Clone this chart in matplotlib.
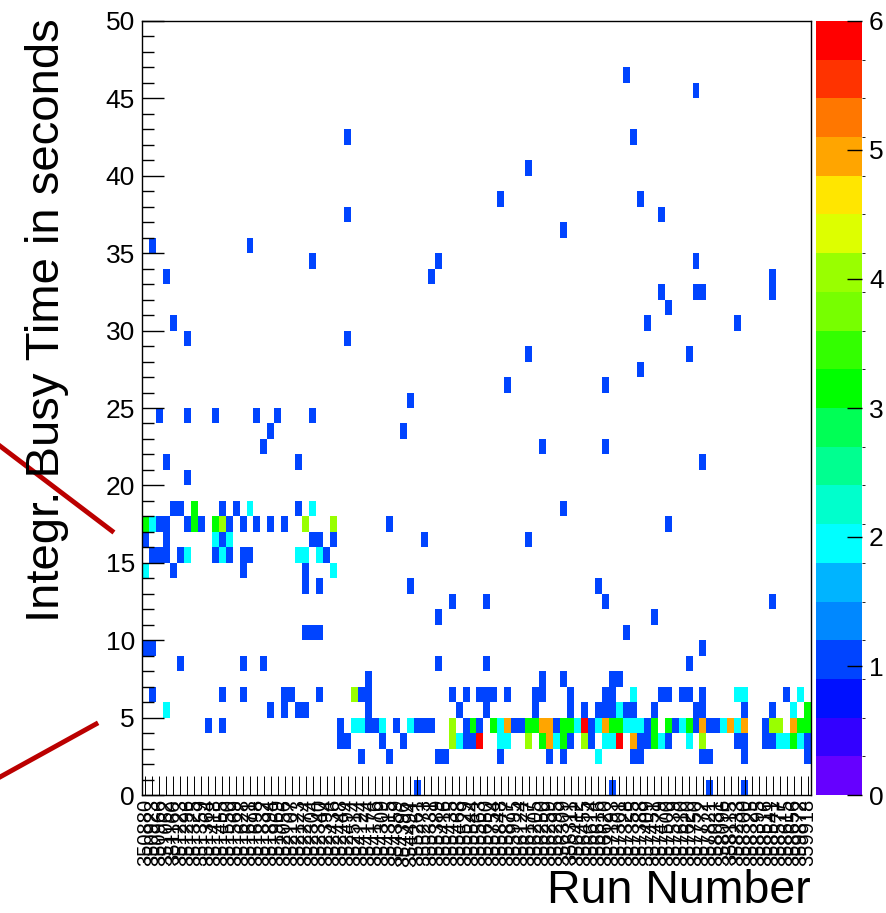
import numpy as np
import matplotlib
matplotlib.use("Agg")
import matplotlib.pyplot as plt
from matplotlib.colors import ListedColormap, BoundaryNorm
from matplotlib.lines import Line2D
from matplotlib.ticker import MultipleLocator

plt.rcParams['font.family'] = ['Liberation Sans', 'DejaVu Sans']

# ---------------- data ----------------
run_numbers = [
    "350880", "350923", "350966", "351062", "351160", "351223", "351296", "351325",
    "351359", "351364", "351418", "351455", "351550", "351569", "351628", "351671",
    "351698", "351832", "351894", "351969", "352056", "352107", "352123", "352274",
    "352304", "352340", "352394", "352436", "352448", "352494", "352514", "354124",
    "354174", "354176", "354309", "354315", "354359", "354396", "354494", "355261",
    "355273", "355331", "355389", "355416", "355435", "355468", "355529", "355544",
    "355563", "355650", "355754", "355848", "355877", "355995", "356124", "356177",
    "356205", "356250", "356259", "356295", "356309", "356311", "356412", "356455",
    "356614", "356616", "356620", "357193", "357301", "357328", "357355", "357388",
    "357409", "357451", "357479", "357500", "357539", "357610", "357620", "357750",
    "357772", "357821", "358031", "358096", "358115", "358233", "358300", "358325",
    "358395", "358516", "358541", "358577", "358615", "358656", "359872", "359918",
]
n_time_bins = 50  # 1-second bins from 0 to 50 s

# (time bin, [run indices]) for each entry count
cells_count_1 = [
    (46, [69]), (45, [79]), (42, [29, 70]), (40, [55]), (38, [51, 71]),
    (37, [29, 74]), (36, [60]), (35, [1, 15]), (34, [24, 42, 79]),
    (33, [3, 41, 90]), (32, [74, 79, 80, 90]), (31, [75]), (30, [4, 72, 85]),
    (29, [6, 29]), (28, [55, 78]), (27, [71]), (26, [52, 66]), (25, [38]),
    (24, [2, 6, 10, 16, 19, 24]), (23, [18, 37]), (22, [17, 57, 66]),
    (21, [3, 22, 80]), (20, [6]),
    (18, [4, 5, 11, 13, 22, 60]),
    (17, [2, 3, 6, 8, 12, 14, 16, 18, 20, 35, 75]),
    (16, [0, 3, 11, 24, 25, 27, 40, 55]),
    (15, [1, 2, 3, 5, 10, 12, 14, 15, 26]),
    (14, [4, 14, 23]), (13, [23, 25, 38, 65]), (12, [44, 49, 66, 90]),
    (11, [42, 73]), (10, [23, 24, 25, 69]), (9, [0, 1, 80]),
    (8, [5, 14, 17, 42, 49, 78]), (7, [32, 57, 60, 67, 68]),
    (6, [1, 11, 14, 20, 21, 25, 31, 32, 44, 46, 48, 49, 50, 52, 56, 57, 61,
         66, 67, 74, 75, 77, 78, 80, 92]),
    (5, [18, 20, 22, 23, 32, 45, 49, 56, 61, 63, 65, 66, 67, 69, 70, 73, 79,
         80, 86, 90]),
    (4, [9, 11, 28, 32, 33, 36, 39, 40, 41, 46, 48, 53, 54, 59, 64, 72, 76,
         79, 81, 82, 89]),
    (3, [28, 29, 34, 37, 46, 47, 61, 64, 71, 72, 75, 85, 86, 89, 90, 95]),
    (2, [31, 35, 42, 43, 51, 58, 60, 70, 71, 80, 81, 86, 95]),
    (0, [39, 67, 81, 86]),
]
cells_count_2 = [
    (18, [15, 24]), (17, [1]), (16, [10, 12]), (15, [6, 11, 22, 23, 25]),
    (14, [0, 27]), (6, [70, 85, 86, 94]), (5, [3, 68, 93]),
    (4, [30, 31, 34, 38, 51, 62, 65, 69, 70, 71, 77, 83, 85]),
    (3, [45, 51, 52, 59, 66, 67, 74, 78, 91, 92, 94]), (2, [65]),
]
cells_count_3 = [
    (18, [7]), (17, [0, 7, 10]), (5, [95]),
    (4, [47, 50, 55, 56, 60, 61, 67, 68, 73, 75, 78, 94, 95]),
    (3, [57, 60, 73, 93]),
]
cells_count_4 = [
    (17, [11, 23, 27]), (6, [30]), (4, [44, 90, 91]), (3, [44, 55, 63, 80]),
]
cells_count_5 = [
    (4, [52, 57, 58, 66, 80, 84, 86, 93]), (3, [58, 70]),
]
cells_count_6 = [
    (4, [63]), (3, [48, 68]),
]

palette = ["#6600ff", "#3300ff", "#0010ff", "#0044ff", "#0088ff", "#00b4ff",
           "#00ffff", "#00ffcc", "#00ff90", "#00ff55", "#00ff00", "#33ff00",
           "#77ff00", "#99ff00", "#ddff00", "#ffe600", "#ffa500", "#ff7700",
           "#ff3300", "#ff0000"]

# ---------------- build histogram ----------------
n_runs = len(run_numbers)
grid = np.zeros((n_time_bins, n_runs))
for cnt, cells in enumerate([cells_count_1, cells_count_2, cells_count_3,
                             cells_count_4, cells_count_5, cells_count_6], start=1):
    for tb, cols in cells:
        for c in cols:
            grid[tb, c] = cnt
data = np.ma.masked_equal(grid, 0)

cmap = ListedColormap(palette)
cmap.set_over(palette[-1])
bounds = np.round(np.arange(21) * 0.3, 6)
norm = BoundaryNorm(bounds, cmap.N)

W, H = 887, 913
fig = plt.figure(figsize=(W / 100, H / 100), dpi=100)
L, R, T, B = 142, 811, 21, 795
ax = fig.add_axes([L / W, 1 - B / H, (R - L) / W, (B - T) / H])

mesh = ax.pcolormesh(np.arange(n_runs + 1), np.arange(n_time_bins + 1), data,
                     cmap=cmap, norm=norm)
ax.set_xlim(0, n_runs)
ax.set_ylim(0, n_time_bins)

ax.set_xticks(np.arange(n_runs) + 0.5)
ax.set_xticklabels(run_numbers, rotation=90, fontsize=14.5)
ax.tick_params(axis='x', direction='in', length=14, width=0.7, pad=3, top=False)

ax.set_yticks(np.arange(0, 51, 5))
ax.yaxis.set_minor_locator(MultipleLocator(1))
ax.tick_params(axis='y', which='major', direction='in', length=16, width=1,
               labelsize=19, pad=5, right=False)
ax.tick_params(axis='y', which='minor', direction='in', length=8.5, width=1,
               right=False)
for s in ax.spines.values():
    s.set_linewidth(1.0)

# colorbar
cax = fig.add_axes([816 / W, 1 - B / H, 46 / W, (B - T) / H])
cb = fig.colorbar(mesh, cax=cax, ticks=range(7))
cb.outline.set_visible(False)
cax.tick_params(direction='in', length=11, width=1, labelsize=19, pad=5,
                right=True, left=False)
cax.yaxis.set_ticks_position('right')

# titles
fig.text(47 / W, 1 - 18 / H, "Integr. Busy Time in seconds", rotation=90,
         ha='center', va='top', fontsize=34)
fig.text(811 / W, 1 - 903 / H, "Run Number", ha='right', va='baseline',
         fontsize=33.5)

# red annotation strokes
fig.add_artist(Line2D([0 / W, 112 / W], [1 - 446 / H, 1 - 531 / H],
                      transform=fig.transFigure, color='#bb0000', lw=3.5))
fig.add_artist(Line2D([0 / W, 96 / W], [1 - 777 / H, 1 - 724 / H],
                      transform=fig.transFigure, color='#bb0000', lw=3.5))

fig.savefig("out.png", dpi=100)
